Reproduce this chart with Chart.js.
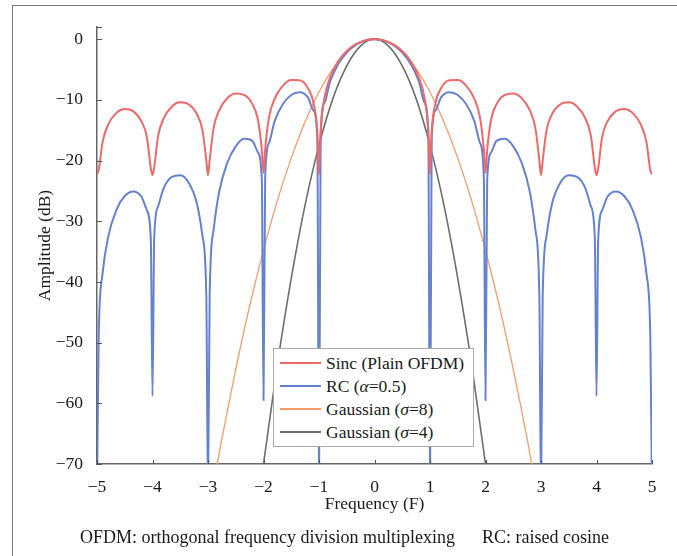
<!DOCTYPE html>
<html>
<head>
<meta charset="utf-8">
<script src="https://cdn.jsdelivr.net/npm/chart.js@4"></script>
<style>
  body { margin: 0; background: #fff; }
  #wrap { position: relative; width: 677px; height: 556px; overflow: hidden;
          font-family: "Liberation Serif", "Times New Roman", serif; color: #1a1a1a; }
  #chartBox { position: absolute; left: 0; top: 0; width: 677px; height: 556px; }
  #frame { position: absolute; left: 12px; top: 5px; width: 700px; height: 600px;
           border-top: 1.5px solid #7a7a7a; border-left: 1.5px solid #7a7a7a; pointer-events: none; }
  #legend { position: absolute; left: 273px; top: 348px; width: 199px; height: 97px;
            background: #fff; border: 1.5px solid #aaa; font-size: 17.5px; }
  .row { position: absolute; left: 0; height: 23px; line-height: 23px; white-space: nowrap; }
  .swatch { position: absolute; left: 6px; top: 10.5px; width: 41px; height: 2px; }
  .label { position: absolute; left: 52px; top: 0; }
  .cap { position: absolute; top: 527px; font-size: 18px; line-height: 20px; white-space: nowrap; }
</style>
</head>
<body>
<div id="wrap">
  <div id="chartBox"><canvas id="spectrum"></canvas></div>
  <div id="legend"></div>
  <div class="cap" style="left:80px">OFDM: orthogonal frequency division multiplexing</div>
  <div class="cap" style="left:482px">RC: raised cosine</div>
  <div id="frame"></div>
</div>
<script>
// frequency grid shared by the Sinc and RC curves (denser near the nulls)
const sincFreq = [
  -5, -4.97, -4.9, -4.8, -4.65, -4.5, -4.35, -4.2, -4.1, -4.03,
  -4, -3.97, -3.9, -3.8, -3.65, -3.5, -3.35, -3.2, -3.1, -3.03,
  -3, -2.97, -2.9, -2.8, -2.65, -2.5, -2.35, -2.2, -2.1, -2.03,
  -2, -1.97, -1.9, -1.8, -1.65, -1.5, -1.35, -1.2, -1.1, -1.03,
  -1, -0.97, -0.9, -0.8, -0.65, -0.5, -0.35, -0.2, -0.1, -0.03,
  0, 0.03, 0.1, 0.2, 0.35, 0.5, 0.65, 0.8, 0.9, 0.97,
  1, 1.03, 1.1, 1.2, 1.35, 1.5, 1.65, 1.8, 1.9, 1.97,
  2, 2.03, 2.1, 2.2, 2.35, 2.5, 2.65, 2.8, 2.9, 2.97,
  3, 3.03, 3.1, 3.2, 3.35, 3.5, 3.65, 3.8, 3.9, 3.97,
  4, 4.03, 4.1, 4.2, 4.35, 4.5, 4.65, 4.8, 4.9, 4.97,
  5
];

const sincDb = [
  -22.3, -21.6, -16.97, -14.09, -12.15, -11.5, -11.86, -13.51, -16.2, -21.3,
  -22.4, -21.2, -15.98, -13.08, -11.1, -10.41, -10.72, -12.33, -14.99, -20.05,
  -22.4, -19.96, -14.7, -11.75, -9.7, -8.95, -9.18, -10.7, -13.29, -18.31,
  -22.1, -18.18, -12.86, -9.83, -7.65, -6.73, -6.78, -8.07, -10.49, -15.36,
  -22.3, -15.1, -9.61, -6.31, -3.6, -1.96, -0.91, -0.29, -0.07, 0,
  0, 0, -0.07, -0.29, -0.91, -1.96, -3.6, -6.31, -9.61, -15.1,
  -22.3, -15.36, -10.49, -8.07, -6.78, -6.73, -7.65, -9.83, -12.86, -18.18,
  -22.1, -18.31, -13.29, -10.7, -9.18, -8.95, -9.7, -11.75, -14.7, -19.96,
  -22.4, -20.05, -14.99, -12.33, -10.72, -10.41, -11.1, -13.08, -15.98, -21.2,
  -22.4, -21.3, -16.2, -13.51, -11.86, -11.5, -12.15, -14.09, -16.97, -21.6,
  -22.3
];

const rcDb = [
  -75, -49.2, -38.65, -32.62, -28.11, -25.85, -25.09, -25.94, -28.24, -33.13,
  -58.8, -32.92, -27.56, -24.58, -22.7, -22.43, -23.63, -27.09, -32.4, -42.45,
  -75, -42.16, -31.46, -25.2, -20.32, -17.66, -16.43, -16.76, -18.67, -23.26,
  -59.5, -22.78, -17.08, -13.55, -10.7, -9.21, -8.75, -9.6, -11.77, -16.48,
  -75, -16.09, -10.45, -6.97, -4.04, -2.22, -1.04, -0.33, -0.08, 0,
  0, 0, -0.08, -0.33, -1.04, -2.22, -4.04, -6.97, -10.45, -16.09,
  -75, -16.48, -11.77, -9.6, -8.75, -9.21, -10.7, -13.55, -17.08, -22.78,
  -59.5, -23.26, -18.67, -16.76, -16.43, -17.66, -20.32, -25.2, -31.46, -42.16,
  -75, -42.45, -32.4, -27.09, -23.63, -22.43, -22.7, -24.58, -27.56, -32.92,
  -58.8, -33.13, -28.24, -25.94, -25.09, -25.85, -28.11, -32.62, -38.65, -49.2,
  -75
];

// Gaussian pulses
const gaussFreq = [-3, -2.75, -2.5, -2.25, -2, -1.75, -1.5, -1.25, -1, -0.75, -0.5, -0.25, 0,
                   0.25, 0.5, 0.75, 1, 1.25, 1.5, 1.75, 2, 2.25, 2.5, 2.75, 3];
const gauss8Db = [-78.3, -65.8, -54.4, -44.0, -34.8, -26.6, -19.6, -13.6, -8.7, -4.9, -2.2, -0.5, 0,
                  -0.5, -2.2, -4.9, -8.7, -13.6, -19.6, -26.6, -34.8, -44.0, -54.4, -65.8, -78.3];
const gauss4Db = [null, null, null, -88.6, -70.0, -53.6, -39.4, -27.3, -17.5, -9.8, -4.4, -1.1, 0,
                  -1.1, -4.4, -9.8, -17.5, -27.3, -39.4, -53.6, -70.0, -88.6, null, null, null];

const seriesNames = ["Sinc (Plain OFDM)", "RC (α=0.5)", "Gaussian (σ=8)", "Gaussian (σ=4)"];
const seriesColors = ["rgb(240,105,105)", "rgb(100,130,210)", "rgb(250,155,105)", "rgb(110,110,110)"];

const xTicks = [-5, -4, -3, -2, -1, 0, 1, 2, 3, 4, 5];
const yTicks = [-70, -60, -50, -40, -30, -20, -10, 0];

const FONT = "'Liberation Serif', 'Times New Roman', serif";
const fmt = (v) => (v < 0 ? "\u2212" + Math.abs(v) : String(v));
const toPoints = (xs, ys) => xs.map((x, i) => ({ x: x, y: ys[i] }));

// little inward tick marks, like the original plot
const innerTicks = {
  id: "innerTicks",
  afterDraw(chart) {
    const { ctx, scales: { x, y } } = chart;
    ctx.save();
    ctx.strokeStyle = "#555";
    ctx.lineWidth = 1;
    ctx.beginPath();
    xTicks.forEach((v) => {
      const px = Math.round(x.getPixelForValue(v)) + 0.5;
      ctx.moveTo(px, x.top);
      ctx.lineTo(px, x.top - 4);
    });
    yTicks.concat([y.max]).forEach((v) => {
      const py = Math.round(y.getPixelForValue(v)) + 0.5;
      ctx.moveTo(y.right, py);
      ctx.lineTo(y.right + 5, py);
    });
    ctx.stroke();
    ctx.restore();
  },
};

const widths = [2, 2, 1.3, 1.6];
const datasets = [
  toPoints(sincFreq, sincDb),
  toPoints(sincFreq, rcDb),
  toPoints(gaussFreq, gauss8Db),
  toPoints(gaussFreq, gauss4Db),
].map((pts, i) => ({
  label: seriesNames[i],
  data: pts,
  borderColor: seriesColors[i],
  borderWidth: widths[i],
  pointRadius: 0,
  fill: false,
  cubicInterpolationMode: "monotone",
}));

new Chart(document.getElementById("spectrum"), {
  type: "line",
  data: { datasets: datasets },
  options: {
    responsive: true,
    maintainAspectRatio: false,
    animation: false,
    events: [],
    layout: { padding: { top: 27, right: 25, left: 0, bottom: 0 } },
    plugins: { legend: { display: false }, tooltip: { enabled: false } },
    scales: {
      x: {
        type: "linear",
        min: -5,
        max: 5,
        afterBuildTicks: (scale) => { scale.ticks = xTicks.map((v) => ({ value: v })); },
        afterFit: (scale) => { scale.height = 92; },
        grid: { display: false },
        border: { display: true, color: "#666", width: 1.5 },
        ticks: { callback: (v) => fmt(v), padding: 5, color: "#1a1a1a", font: { family: FONT, size: 17.5 }, maxRotation: 0, autoSkip: false },
        title: { display: true, text: "Frequency (F)", color: "#1a1a1a", font: { family: FONT, size: 17.5 }, padding: { top: 0, bottom: 41.5 } },
      },
      y: {
        min: -70,
        max: 2,
        afterBuildTicks: (scale) => { scale.ticks = yTicks.map((v) => ({ value: v })); },
        afterFit: (scale) => { scale.width = 97; },
        grid: { display: false },
        border: { display: true, color: "#666", width: 1.5 },
        ticks: { callback: (v) => fmt(v), padding: 6, color: "#1a1a1a", font: { family: FONT, size: 17.5 }, autoSkip: false },
        title: { display: true, text: "Amplitude (dB)", color: "#1a1a1a", font: { family: FONT, size: 17.5 }, padding: { top: 34.5, bottom: 0 } },
      },
    },
  },
  plugins: [innerTicks],
});

// legend box drawn in HTML so the Greek letters can be italic
const legend = document.getElementById("legend");
seriesNames.forEach((name, i) => {
  const row = document.createElement("div");
  row.className = "row";
  row.style.top = (2.5 + i * 23) + "px";
  row.innerHTML = '<span class="swatch" style="background:' + seriesColors[i] + '"></span>' +
    '<span class="label">' + name.replace(/([ασ])/g, "<i>$1</i>") + "</span>";
  legend.appendChild(row);
});
</script>
</body>
</html>
